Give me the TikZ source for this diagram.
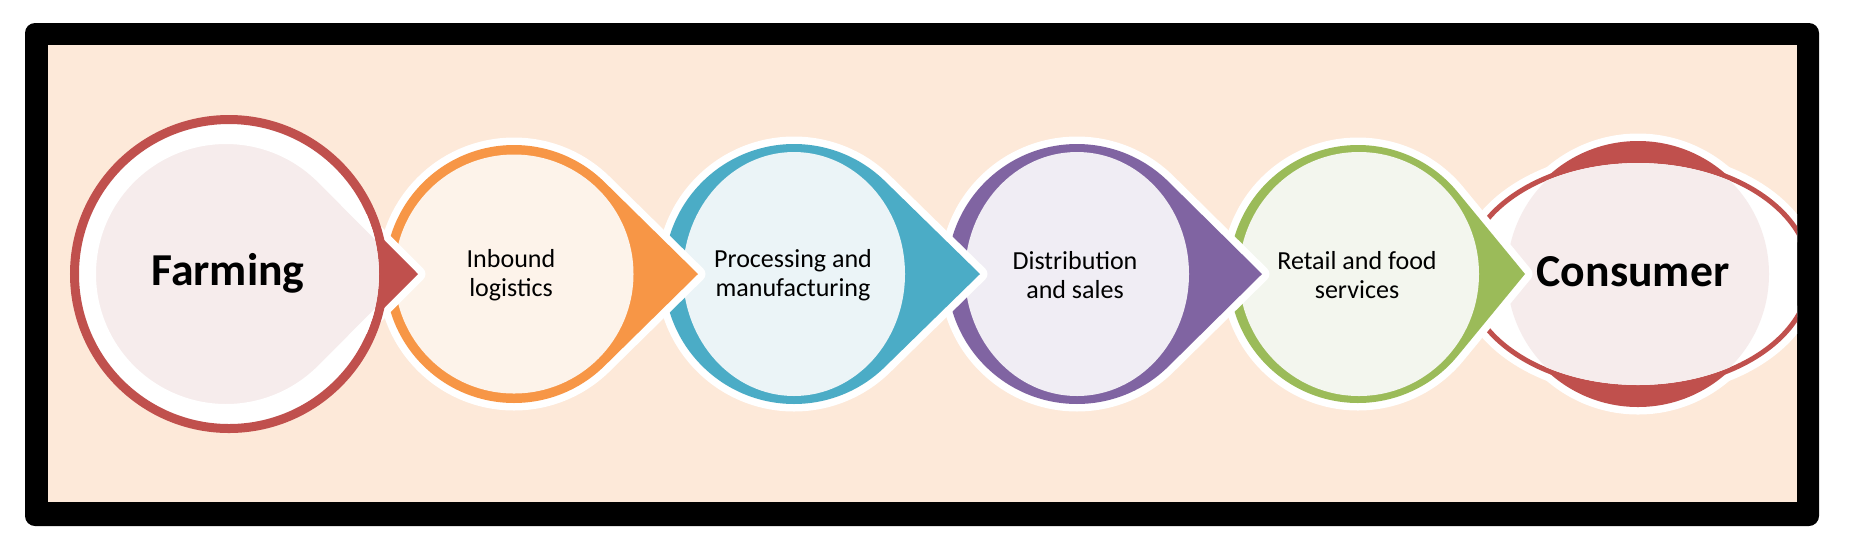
\documentclass[tikz,border=0pt]{standalone}
\usepackage{fontspec}
\setmainfont{Carlito}
\usepackage{tikz}
\usetikzlibrary{calc}
\definecolor{stepred}{RGB}{192,80,77}
\definecolor{steporange}{RGB}{247,150,70}
\definecolor{stepblue}{RGB}{75,172,198}
\definecolor{steppurple}{RGB}{128,100,162}
\definecolor{stepgreen}{RGB}{155,187,89}
\definecolor{palered}{RGB}{246,236,236}
\definecolor{paleorange}{RGB}{253,243,234}
\definecolor{paleblue}{RGB}{235,244,247}
\definecolor{palepurple}{RGB}{240,237,244}
\definecolor{palegreen}{RGB}{243,246,238}
\definecolor{peach}{RGB}{253,233,217}
\tikzset{
  glow/.style={draw=white, line width=0.15cm, line join=round},
  steptext/.style={font=\fontsize{7.4}{8.1}\selectfont, align=center, inner sep=0pt},
  endtext/.style={font=\fontsize{13}{15}\selectfont\bfseries, anchor=base, inner sep=0pt}
}
% circle of radius #2 round (#1,0), pointed at (#1+#3,0)
\newcommand{\teardrop}[3]{(#1+#3,0) -- ({#1+#2*cos(acos(#2/#3))},{#2*sin(acos(#2/#3))}) arc[start angle={acos(#2/#3)}, end angle={360-acos(#2/#3)}, radius=#2] -- cycle}

\begin{document}
\begin{tikzpicture}[x=0.01cm, y=0.01cm]
  \useasboundingbox (0,-261) rectangle (1866,274);
  % Frame
  \fill[white] (0,-261) rectangle (1866,274);
  \fill[black, rounded corners=0.1cm] (25,-252) rectangle (1819,251);
  \fill[peach] (48,-228) rectangle (1797,229);

  \begin{scope}
    \clip (48,-228) rectangle (1797,229);

    % Consumer (circle crossed by an ellipse)
    \path[glow] (1638,0) circle[radius=133];
    \path[glow] (1638,0) ellipse[x radius=174, y radius=116];
    \fill[stepred] (1638,0) circle[radius=133];
    \draw[stepred, line width=0.05cm, fill=white] (1638,0) ellipse[x radius=172, y radius=113.5];
    \begin{scope}
      \clip (1638,0) ellipse[x radius=169.5, y radius=111];
      \fill[palered] (1638,0) circle[radius=131];
    \end{scope}
    \node[endtext] (consumer) at (1633,-12.7) {Consumer};

    % Retail and food services
    \path[glow] \teardrop{1358}{129}{167};
    \fill[stepgreen] \teardrop{1358}{129}{167};
    \fill[palegreen] (1359,0) ellipse[x radius=120, y radius=122];
    \node[steptext] (retail) at (1357,-1) {Retail and food\\services};

    % Distribution and sales
    \path[glow] \teardrop{1077}{130}{185};
    \fill[steppurple] \teardrop{1077}{130}{185};
    \fill[palepurple] (1077,0) ellipse[x radius=112, y radius=122];
    \node[steptext] (distribution) at (1075,-1) {Distribution\\and sales};

    % Processing and manufacturing
    \path[glow] \teardrop{794}{130}{186};
    \fill[stepblue] \teardrop{794}{130}{186};
    \fill[paleblue] (794,0) ellipse[x radius=111, y radius=122];
    \node[steptext] (processing) at (793,-1) {Processing and\\manufacturing};

    % Inbound logistics
    \path[glow] \teardrop{514}{129}{184};
    \fill[steporange] \teardrop{514}{129}{184};
    \fill[paleorange] (514,0) circle[radius=119.5];
    \node[steptext] (inbound) at (511,-1) {Inbound\\logistics};

    % Farming (ring round the first drop)
    \path[glow] \teardrop{226}{136}{192};
    \fill[stepred] \teardrop{226}{136}{192};
    \draw[stepred, line width=0.09cm, fill=white] (229,0) circle[radius=154.5];
    \begin{scope}
      \clip (229,0) circle[radius=150];
      \path[fill=palered, draw=white, line width=0.12cm, line join=round] \teardrop{226}{136}{192};
    \end{scope}
    \node[endtext] (farming) at (228,-11) {Farming};
  \end{scope}
\end{tikzpicture}
\end{document}
